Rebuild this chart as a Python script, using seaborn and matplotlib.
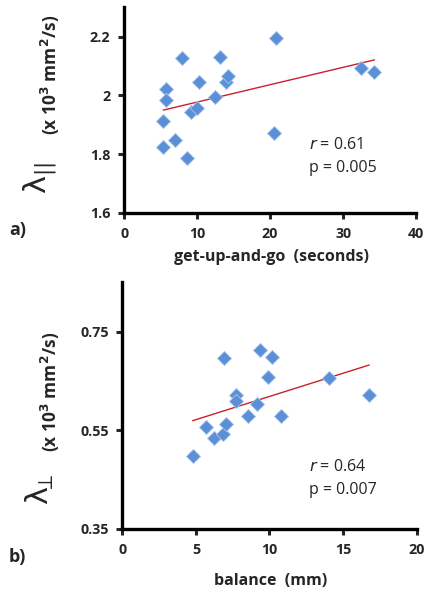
import seaborn as sns
import matplotlib.pyplot as plt

# panel a: get-up-and-go vs parallel diffusivity
gug_sec = [5.36, 5.36, 5.68, 5.68, 6.91, 8.55, 8.0, 9.23, 10.0, 10.23,
           12.4, 13.1, 13.9, 14.2, 20.8, 20.6, 32.4, 34.3]
lam_par = [1.823, 1.911, 2.022, 1.983, 1.849, 1.788, 2.126, 1.943, 1.958, 2.045,
           1.995, 2.130, 2.045, 2.064, 2.196, 1.871, 2.092, 2.079]

# panel b: balance vs perpendicular diffusivity
balance_mm = [4.78, 5.69, 6.21, 6.82, 7.04, 6.88, 7.75, 7.75, 8.56, 9.13,
              9.33, 9.9, 10.19, 10.8, 14.02, 16.78]
lam_perp = [0.497, 0.557, 0.534, 0.542, 0.563, 0.697, 0.621, 0.609, 0.578, 0.603,
            0.712, 0.658, 0.698, 0.579, 0.655, 0.621]

sns.set_style('white')
plt.rcParams['font.family'] = ['Open Sans', 'DejaVu Sans']
plt.rcParams['mathtext.fontset'] = 'dejavusans'

fig = plt.figure(figsize=(4.25, 5.93), dpi=100)
ax1 = fig.add_axes([0.292, 0.641, 0.687, 0.347])
ax2 = fig.add_axes([0.288, 0.108, 0.692, 0.416])

dot = dict(marker='D', s=52, color='#5b8fd6', edgecolor='#a9c6ee', linewidth=0.6, zorder=3)
line = dict(color='#cc1f2e', linewidth=1.0)


def style_axis(ax, xticks, yticks, ylabels):
    ax.set_xticks(xticks)
    ax.set_yticks(yticks)
    ax.set_yticklabels(ylabels)
    for s in ['top', 'right']:
        ax.spines[s].set_visible(False)
    for s in ['left', 'bottom']:
        ax.spines[s].set_linewidth(2.4)
        ax.spines[s].set_color('black')
    ax.tick_params(direction='out', length=4, width=2.2, labelsize=10.3, pad=6,
                   left=True, bottom=True)
    for t in ax.get_xticklabels() + ax.get_yticklabels():
        t.set_fontweight('bold')
    ax.set_xlabel('')
    ax.set_ylabel('')


sns.scatterplot(x=gug_sec, y=lam_par, ax=ax1, **dot)
sns.regplot(x=gug_sec, y=lam_par, ax=ax1, scatter=False, ci=None, line_kws=line)
ax1.set_xlim(0, 40)
ax1.set_ylim(1.6, 2.3)
style_axis(ax1, [0, 10, 20, 30, 40], [1.6, 1.8, 2.0, 2.2], ['1.6', '1.8', '2', '2.2'])

sns.scatterplot(x=balance_mm, y=lam_perp, ax=ax2, **dot)
sns.regplot(x=balance_mm, y=lam_perp, ax=ax2, scatter=False, ci=None, line_kws=line)
ax2.set_xlim(0, 20)
ax2.set_ylim(0.35, 0.85)
style_axis(ax2, [0, 5, 10, 15, 20], [0.35, 0.55, 0.75], ['0.35', '0.55', '0.75'])

# axis labels
fig.text(271 / 425, 1 - 257 / 593, 'get-up-and-go  (seconds)', ha='center', va='center',
         fontsize=11.5, fontweight='bold')
fig.text(271 / 425, 1 - 581 / 593, 'balance  (mm)', ha='center', va='center',
         fontsize=11.5, fontweight='bold')

fig.text(40 / 425, 1 - 178 / 593, r'$\mathrm{\lambda}_{||}$', rotation=90, ha='center',
         va='center', fontsize=22)
fig.text(50 / 425, 1 - 75 / 593, r'(x 10$^{\mathbf{3}}$ mm$^{\mathbf{2}}$/s)', rotation=90,
         ha='center', va='center', fontsize=12.5, fontweight='bold')
fig.text(40 / 425, 1 - 489 / 593, r'$\mathrm{\lambda}_{\!\!\perp}$', rotation=90, ha='center',
         va='center', fontsize=22)
fig.text(50 / 425, 1 - 392 / 593, r'(x 10$^{\mathbf{3}}$ mm$^{\mathbf{2}}$/s)', rotation=90,
         ha='center', va='center', fontsize=12.5, fontweight='bold')

# panel tags
fig.text(9 / 425, 1 - 230 / 593, 'a)', ha='left', va='center', fontsize=13, fontweight='bold')
fig.text(9 / 425, 1 - 557 / 593, 'b)', ha='left', va='center', fontsize=13, fontweight='bold')

# stats
for y_r, y_p, r_txt, p_txt in [(145, 168, '0.61', '0.005'), (467, 490, '0.64', '0.007')]:
    fig.text(309 / 425, 1 - y_r / 593, r'$\it{r}$ = ' + r_txt, ha='left', va='center', fontsize=11.5)
    fig.text(309 / 425, 1 - y_p / 593, 'p = ' + p_txt, ha='left', va='center', fontsize=11.5)

fig.savefig('out.png', dpi=100)
